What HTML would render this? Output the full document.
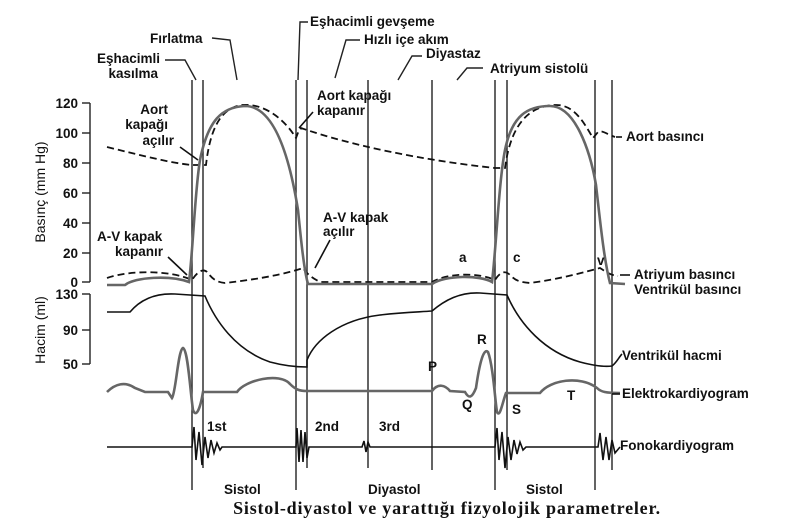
<!DOCTYPE html>
<html><head><meta charset="utf-8"><style>
html,body{margin:0;padding:0;background:#fff;}
svg{display:block;}
text{font-family:"Liberation Sans",Arial,sans-serif;font-size:13.5px;font-weight:bold;fill:#111;}
</style></head><body>
<svg width="795" height="529" viewBox="0 0 795 529" xmlns="http://www.w3.org/2000/svg">
<g stroke="#222" stroke-width="1.4" fill="none">
<line x1="192" y1="80" x2="192" y2="490"/><line x1="203" y1="80" x2="203" y2="468"/>
<line x1="296" y1="80" x2="296" y2="490"/><line x1="307" y1="80" x2="307" y2="468"/>
<line x1="368" y1="80" x2="368" y2="468"/><line x1="432" y1="80" x2="432" y2="470"/>
<line x1="495" y1="80" x2="495" y2="490"/><line x1="507" y1="80" x2="507" y2="470"/>
<line x1="595" y1="80" x2="595" y2="490"/><line x1="612" y1="80" x2="612" y2="470"/>
<line x1="90" y1="103" x2="90" y2="282"/>
<line x1="82" y1="103" x2="90" y2="103"/><line x1="82" y1="133" x2="90" y2="133"/><line x1="82" y1="163" x2="90" y2="163"/>
<line x1="82" y1="193" x2="90" y2="193"/><line x1="82" y1="223" x2="90" y2="223"/><line x1="82" y1="253" x2="90" y2="253"/>
<line x1="82" y1="282" x2="90" y2="282"/>
<line x1="90" y1="294" x2="90" y2="364"/>
<line x1="82" y1="294" x2="90" y2="294"/><line x1="82" y1="330" x2="90" y2="330"/><line x1="82" y1="364" x2="90" y2="364"/>
<polyline points="212,38 230,40 237,80"/>
<polyline points="165,60 185,60 196,80"/>
<polyline points="308,22 300,22 298,80"/>
<polyline points="360,40 346,40 335,78"/>
<polyline points="422,56 412,56 398,80"/>
<polyline points="483,68 467,68 457,80"/>
</g>
<g stroke="#111" stroke-width="1.8" fill="none" stroke-dasharray="7,4">
<path d="M107,147 C140,155 170,163 192,165 L206,165 C210,130 220,108 242,105 C265,103 285,120 296,138 L299,130 L301,128 C350,145 420,160 495,168 L505,168 C510,130 525,106 555,105 C575,104 585,125 593,138 L598,132 C603,130 606,134 615,137"/>
<path d="M107,278 C130,270 170,270 192,280 C197,272 203,268 207,272 C212,278 215,282 225,283 C260,279 285,274 303,268 C307,274 312,278 320,282 L432,282 C450,272 480,273 495,280 C500,272 505,270 510,275 C515,280 518,282 530,283 C560,279 585,272 600,268 C606,272 610,275 618,276"/>
</g>
<g stroke="#666" stroke-width="2.6" fill="none">
<path d="M107,285 L125,285 C135,277 170,275 189,282 C193,250 195,190 200,160 C208,120 222,107 245,106 C275,106 290,160 298,210 C301,240 304,270 308,284 L432,284 C445,275 480,275 492,282 C496,250 499,180 505,150 C512,115 528,106 550,106 C575,106 590,150 596,185 C600,220 604,260 610,283 L625,284"/>
<path d="M107,392 C115,384 125,381 135,388 L145,392 L168,392 L172,398 C176,392 178,350 183,348 C188,350 190,390 193,410 C196,418 200,410 203,392 L237,392 C245,380 280,372 290,384 C296,390 300,391 307,391 L432,391 C438,383 445,385 450,391 L465,392 C469,399 472,398 476,388 C480,360 484,348 488,352 C493,365 495,400 497,412 C500,418 502,404 506,393 L540,393 C550,380 580,375 597,388 C601,392 606,393 620,393"/>
</g>
<g stroke="#111" stroke-width="1.6" fill="none">
<path d="M107,312 L130,312 C140,300 155,293 175,294 L205,296 C215,320 235,350 270,362 C285,366 295,367 307,367 L307,360 C315,340 340,320 380,315 C405,312 420,312 432,311 C445,300 460,292 480,293 L507,295 C520,325 545,352 580,362 C595,366 605,367 612,366 C617,362 619,357 622,354"/>
<path d="M107,447 L192,447 L194,427 L196,460 L199,432 L202,465 L205,437 L208,458 L211,440 L214,453 L217,443 L220,450 L222,447 L296,447 L297,428 L299,462 L301,430 L303,462 L305,432 L307,458 L309,447 L362,447 L364,441 L366,452 L368,442 L370,447 L495,447 L497,428 L499,460 L502,432 L505,468 L508,437 L511,460 L514,440 L517,454 L520,442 L523,450 L526,447 L598,447 L600,433 L603,460 L606,437 L609,460 L612,440 L615,453 L620,447"/>
<line x1="180" y1="147" x2="198" y2="160"/>
<line x1="313" y1="112" x2="299" y2="128"/>
<line x1="330" y1="240" x2="315" y2="268"/>
<line x1="168" y1="257" x2="187" y2="275"/>
<line x1="616" y1="137" x2="622" y2="137"/>
<line x1="620" y1="275" x2="630" y2="275"/>
<line x1="612" y1="394" x2="620" y2="394"/>
</g>
<text x="78" y="108" text-anchor="end">120</text><text x="78" y="138" text-anchor="end">100</text>
<text x="78" y="168" text-anchor="end">80</text><text x="78" y="198" text-anchor="end">60</text>
<text x="78" y="228" text-anchor="end">40</text><text x="78" y="258" text-anchor="end">20</text>
<text x="78" y="287" text-anchor="end">0</text>
<text x="78" y="299" text-anchor="end">130</text><text x="78" y="335" text-anchor="end">90</text><text x="78" y="369" text-anchor="end">50</text>
<text transform="translate(45,192) rotate(-90)" text-anchor="middle" style="font-weight:normal;font-size:14px">Basınç (mm Hg)</text>
<text transform="translate(45,330) rotate(-90)" text-anchor="middle" style="font-weight:normal;font-size:14px">Hacim (ml)</text>
<text x="150" y="43">Fırlatma</text>
<text x="160" y="63" text-anchor="end">Eşhacimli</text>
<text x="158" y="78" text-anchor="end">kasılma</text>
<text x="310" y="26">Eşhacimli gevşeme</text>
<text x="364" y="44">Hızlı içe akım</text>
<text x="426" y="58">Diyastaz</text>
<text x="490" y="73">Atriyum sistolü</text>
<text x="168" y="114" text-anchor="end">Aort</text>
<text x="168" y="129" text-anchor="end">kapağı</text>
<text x="174" y="145" text-anchor="end">açılır</text>
<text x="317" y="100">Aort kapağı</text>
<text x="317" y="115">kapanır</text>
<text x="323" y="222">A-V kapak</text>
<text x="323" y="236">açılır</text>
<text x="97" y="241">A-V kapak</text>
<text x="115" y="256">kapanır</text>
<text x="459" y="262">a</text><text x="513" y="262">c</text><text x="597" y="265">v</text>
<text x="626" y="141">Aort basıncı</text>
<text x="634" y="279">Atriyum basıncı</text>
<text x="634" y="294">Ventrikül basıncı</text>
<text x="622" y="360">Ventrikül hacmi</text>
<text x="622" y="398">Elektrokardiyogram</text>
<text x="620" y="450">Fonokardiyogram</text>
<text x="428" y="371">P</text><text x="477" y="344">R</text><text x="462" y="409">Q</text>
<text x="512" y="414">S</text><text x="567" y="400">T</text>
<text x="207" y="431">1st</text><text x="315" y="431">2nd</text><text x="379" y="431">3rd</text>
<text x="224" y="494">Sistol</text><text x="368" y="494">Diyastol</text><text x="526" y="494">Sistol</text>
<text x="447" y="514" text-anchor="middle" style="font-family:'Liberation Serif',serif;font-size:18px;font-weight:bold;letter-spacing:0.8px;">Sistol-diyastol ve yarattığı fizyolojik parametreler.</text>
</svg>
</body></html>
